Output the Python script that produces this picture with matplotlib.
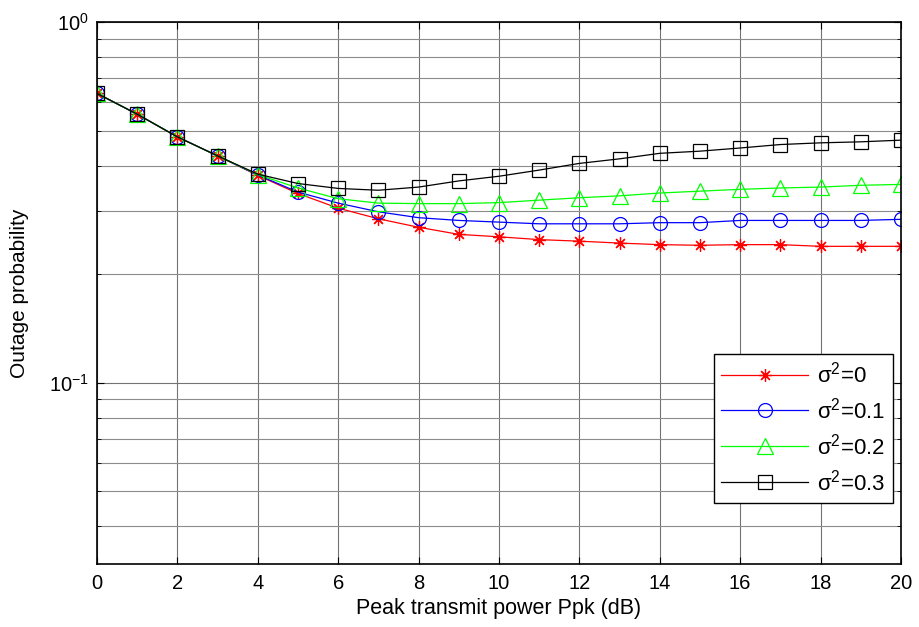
import numpy as np
import matplotlib
matplotlib.use("Agg")
import matplotlib.pyplot as plt
from matplotlib.ticker import FixedLocator, NullFormatter, LogLocator

plt.rcParams['font.family'] = ['Liberation Sans', 'DejaVu Sans']
plt.rcParams['mathtext.fontset'] = 'custom'
plt.rcParams['mathtext.rm'] = 'Liberation Sans'
plt.rcParams['mathtext.it'] = 'Liberation Sans:italic'
plt.rcParams['mathtext.default'] = 'regular'

# peak transmit power (dB)
ppk = np.arange(0, 21)

# outage probability for each channel estimation error variance
p_s0 = [0.635, 0.556, 0.481, 0.426, 0.376, 0.335, 0.305, 0.285, 0.270, 0.258, 0.254,
        0.2495, 0.247, 0.244, 0.2416, 0.2406, 0.2416, 0.2416, 0.239, 0.239, 0.239]
p_s01 = [0.635, 0.556, 0.481, 0.426, 0.377, 0.338, 0.315, 0.298, 0.287, 0.282, 0.279,
         0.276, 0.276, 0.276, 0.278, 0.278, 0.282, 0.282, 0.282, 0.282, 0.284]
p_s02 = [0.635, 0.556, 0.481, 0.426, 0.378, 0.347, 0.324, 0.315, 0.314, 0.314, 0.316,
         0.321, 0.326, 0.330, 0.336, 0.340, 0.344, 0.347, 0.349, 0.353, 0.355]
p_s03 = [0.635, 0.556, 0.481, 0.426, 0.379, 0.357, 0.346, 0.342, 0.349, 0.363, 0.374,
         0.389, 0.406, 0.418, 0.433, 0.439, 0.448, 0.458, 0.463, 0.466, 0.471]

labels = [r'$\sigma^2$=0', r'$\sigma^2$=0.1', r'$\sigma^2$=0.2', r'$\sigma^2$=0.3']

fig = plt.figure(figsize=(9.2, 6.27), dpi=100)
ax = fig.add_axes([0.1054, 0.1005, 0.8739, 0.8639])

lw = 0.9
ax.plot(ppk, p_s0, color='red', lw=lw, marker=(8, 2, 0), ms=9, mew=0.9, label=labels[0])
ax.plot(ppk, p_s01, color='blue', lw=lw, marker='o', ms=10, mfc='none', mew=0.9, label=labels[1])
ax.plot(ppk, p_s02, color='#00ff00', lw=lw, marker='^', ms=12, mfc='none', mew=0.9, label=labels[2])
ax.plot(ppk, p_s03, color='black', lw=lw, marker='s', ms=10, mfc='none', mew=0.9, label=labels[3])

ax.set_yscale('log')
ax.set_xlim(0, 20)
ax.set_ylim(0.0314, 1)
ax.set_xticks(np.arange(0, 21, 2))
ax.yaxis.set_major_locator(FixedLocator([0.1, 1]))
ax.yaxis.set_minor_locator(LogLocator(base=10, subs=np.arange(2, 10)))
ax.yaxis.set_minor_formatter(NullFormatter())
ax.set_yticklabels([r'$10^{-1}$', r'$10^{0}$'])

ax.grid(True, which='major', color='0.45', lw=0.8)
ax.grid(True, which='minor', axis='y', color='0.55', lw=0.8)
ax.tick_params(which='both', direction='in', top=True, right=True, labelsize=14.5)
ax.tick_params(which='major', length=5)
ax.tick_params(which='minor', length=3)
ax.tick_params(axis='x', pad=7)
ax.tick_params(axis='y', pad=6)
for s in ax.spines.values():
    s.set_linewidth(1.2)

ax.set_xlabel('Peak transmit power Ppk (dB)', fontsize=15.5)
ax.set_ylabel('Outage probability', fontsize=15)
ax.xaxis.set_label_coords(0.5, -0.062)
ax.yaxis.set_label_coords(-0.085, 0.5)

leg = ax.legend(loc='lower right', bbox_to_anchor=(0.99, 0.113), borderaxespad=0,
                fontsize=16, fancybox=False, edgecolor='black', framealpha=1,
                handlelength=3.9, handletextpad=0.4, labelspacing=0.45, borderpad=0.35)
leg.get_frame().set_linewidth(1.0)

fig.savefig('out.png', dpi=100)
